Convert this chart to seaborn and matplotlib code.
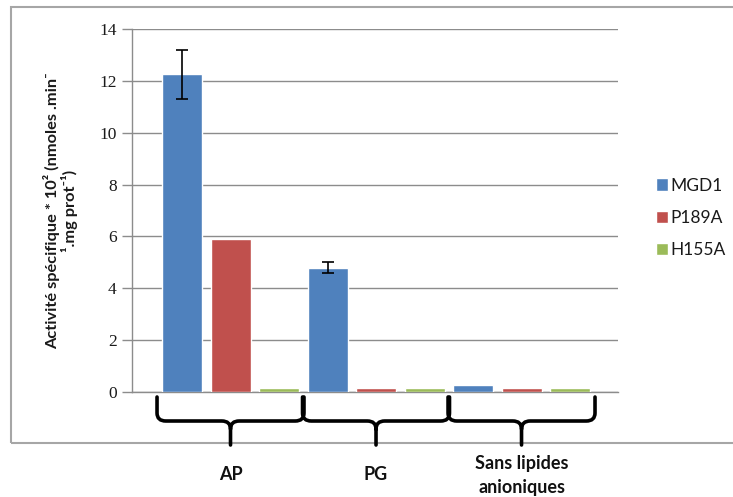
import numpy as np
import pandas as pd
import seaborn as sns
import matplotlib
matplotlib.use("Agg")
import matplotlib.pyplot as plt
from matplotlib.path import Path
from matplotlib.patches import PathPatch, Rectangle
from matplotlib.transforms import blended_transform_factory

# ---- data ----
groups = ["AP", "PG", "Sans lipides\nanioniques"]
series = ["MGD1", "P189A", "H155A"]
mgd1 = [12.25, 4.8, 0.28]
p189a = [5.9, 0.15, 0.15]
h155a = [0.15, 0.15, 0.15]
mgd1_err = [0.94, 0.2, 0.0]
yticks = [0, 2, 4, 6, 8, 10, 12, 14]
colors = ["#4F81BD", "#C0504D", "#9BBB59"]

df = pd.DataFrame({
    "group": groups * 3,
    "series": [s for s in series for _ in groups],
    "value": mgd1 + p189a + h155a,
})

sns.set_theme(style="white")
plt.rcParams["font.family"] = ["Lato", "DejaVu Sans"]

W, H = 733, 497
fig = plt.figure(figsize=(W / 100, H / 100), dpi=100)
fig.patch.set_facecolor("white")

# outer chart frame
fig.patches.append(Rectangle((11 / W, 1 - 443 / H), 1.0, (443 - 7) / H,
                             transform=fig.transFigure, fill=False,
                             edgecolor="#A6A6A6", linewidth=1.5, zorder=0))

ax = fig.add_axes([132 / W, 1 - 392 / H, (618 - 132) / W, (392 - 29) / H])
ax.set_facecolor("none")

sns.barplot(data=df, x="group", y="value", hue="series", order=groups,
            hue_order=series, palette=colors, width=1.0, gap=0.175,
            errorbar=None, ax=ax, saturation=1, legend=True, zorder=3)

# error bars on MGD1 bars
mg_patches = list(ax.patches)[:3]
for p, v, e in zip(mg_patches, mgd1, mgd1_err):
    if e > 0:
        ax.errorbar(p.get_x() + p.get_width() / 2, v, yerr=e, fmt="none",
                    ecolor="black", elinewidth=1.2, capsize=4.5, capthick=1.2,
                    zorder=4)

ax.set_xlim(-0.677, 2.663)
ax.set_ylim(0, 14)
ax.set_yticks(yticks)
ax.set_yticklabels([str(t) for t in yticks], family="Liberation Serif",
                   fontsize=12.5, color="#1a1a1a")
ax.yaxis.grid(True, color="#8C8C8C", linewidth=1)
ax.set_axisbelow(True)
ax.tick_params(axis="y", length=7, color="#8C8C8C", width=1, left=True, pad=4)
ax.set_xticks([])
ax.set_xlabel("")
for s in ["top", "right"]:
    ax.spines[s].set_visible(False)
ax.spines["left"].set_color("#8C8C8C")
ax.spines["bottom"].set_color("#8C8C8C")
ax.spines["left"].set_linewidth(1)
ax.spines["bottom"].set_linewidth(1)

ax.set_ylabel("Activité spécifique * 10\u00b2 (nmoles .min\u207b\n\u00b9.mg prot\u207b\u00b9)",
              fontsize=11.8, fontweight="bold", labelpad=15, linespacing=1.1,
              color="#1a1a1a", family=["Lato", "DejaVu Sans"])

# legend
handles, labels = ax.get_legend_handles_labels()
leg = ax.legend(handles, labels, loc="center left",
                bbox_to_anchor=(649 / W, 1 - 218 / H),
                bbox_transform=fig.transFigure, frameon=False,
                fontsize=12.5, handlelength=0.7, handleheight=0.7,
                handletextpad=0.12, labelspacing=0.95, borderaxespad=0)
for t in leg.get_texts():
    t.set_color("#1a1a1a")

# braces under groups
trans = blended_transform_factory(ax.transData, fig.transFigure)
def fy(py):
    return 1 - py / H

ytop, yh, ytip = fy(397), fy(421), fy(445)
r_y = 8 / H
for i in range(len(groups)):
    x0, x1, xc = i - 0.505, i + 0.505, i
    rx = 0.06
    verts = [
        (x0, ytop), (x0, yh + r_y), (x0, yh), (x0 + rx, yh),
        (xc - rx, yh), (xc, yh), (xc, yh - r_y),
        (xc, ytip),
        (xc, yh - r_y), (xc, yh), (xc + rx, yh),
        (x1 - rx, yh), (x1, yh), (x1, yh + r_y), (x1, ytop),
    ]
    codes = [Path.MOVETO, Path.LINETO, Path.CURVE3, Path.CURVE3,
             Path.LINETO, Path.CURVE3, Path.CURVE3,
             Path.LINETO,
             Path.MOVETO, Path.CURVE3, Path.CURVE3,
             Path.LINETO, Path.CURVE3, Path.CURVE3, Path.LINETO]
    patch = PathPatch(Path(verts, codes), transform=trans, fill=False,
                      edgecolor="black", linewidth=2.6, clip_on=False,
                      capstyle="round", joinstyle="round")
    fig.patches.append(patch)

label_y = [475, 475, 476]
for i, g in enumerate(groups):
    fig.text(0, 0, g, transform=trans, fontsize=13, fontweight="bold",
             ha="center", va="center", linespacing=1.5, color="#111111")
    fig.texts[-1].set_position((i, fy(label_y[i])))

fig.savefig("out.png", dpi=100, facecolor="white")
